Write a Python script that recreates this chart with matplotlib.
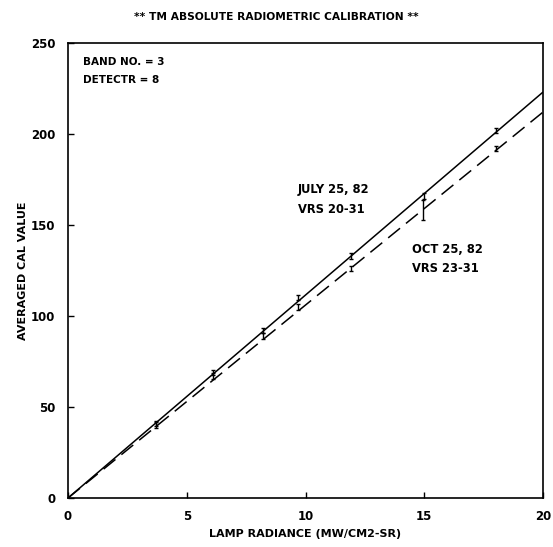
import matplotlib
matplotlib.use("Agg")
import matplotlib.pyplot as plt

# Fitted calibration lines (endpoints)
july_line_x = [0, 20]
july_line_y = [0, 223]
oct_line_x = [0, 20]
oct_line_y = [0, 212]

# Measured points with small error bars
july_x = [3.7, 6.1, 8.2, 9.7, 11.9, 15.0, 18.0]
july_y = [41, 69, 92, 110, 133, 166, 202]
july_err = [1.5, 1.5, 1.5, 1.5, 1.5, 1.5, 1.5]
oct_x = [3.7, 6.1, 8.2, 9.7, 11.9, 14.95, 18.0]
oct_y = [40, 67, 89, 105, 126, 158, 192]
oct_err = [1.5, 1.5, 1.5, 1.5, 1.5, 5.5, 1.5]

x_ticks = [0, 5, 10, 15, 20]
y_ticks = [0, 50, 100, 150, 200, 250]

FONT = dict(family="DejaVu Sans", fontweight="bold")

fig = plt.figure(figsize=(5.53, 5.47), dpi=100)
ax = fig.add_axes([0.123, 0.0896, 0.859, 0.832])

ax.plot(july_line_x, july_line_y, color="black", lw=1.1, solid_capstyle="butt")
ax.plot(oct_line_x, oct_line_y, color="black", lw=1.1, dashes=(10, 5))
ax.errorbar(july_x, july_y, yerr=july_err, fmt="none", ecolor="black",
            elinewidth=1.0, capsize=1.5, capthick=1.0)
ax.errorbar(oct_x, oct_y, yerr=oct_err, fmt="none", ecolor="black",
            elinewidth=1.0, capsize=1.5, capthick=1.0)

ax.set_xlim(0, 20)
ax.set_ylim(0, 250)
ax.set_xticks(x_ticks)
ax.set_yticks(y_ticks)
ax.set_xticklabels([str(t) for t in x_ticks], fontsize=8.5, **FONT)
ax.set_yticklabels([str(t) for t in y_ticks], fontsize=8.5, **FONT)
ax.tick_params(axis="y", direction="in", length=4, width=1.0, pad=9)
ax.tick_params(axis="x", direction="in", length=4, width=1.0, pad=9)
for s in ax.spines.values():
    s.set_linewidth(1.2)

ax.set_xlabel("LAMP RADIANCE (MW/CM2-SR)", fontsize=8, labelpad=4, **FONT)
ax.set_ylabel("AVERAGED CAL VALUE", fontsize=8, labelpad=2, **FONT)
fig.text(0.5, 0.969, "** TM ABSOLUTE RADIOMETRIC CALIBRATION **",
         ha="center", va="center", fontsize=7.7, **FONT)

ax.text(0.032, 0.958, "BAND NO. = 3", transform=ax.transAxes,
        ha="left", va="center", fontsize=7.5, **FONT)
ax.text(0.032, 0.919, "DETECTR = 8", transform=ax.transAxes,
        ha="left", va="center", fontsize=7.5, **FONT)
ax.text(0.484, 0.677, "JULY 25, 82", transform=ax.transAxes,
        ha="left", va="center", fontsize=8.3, **FONT)
ax.text(0.484, 0.633, "VRS 20-31", transform=ax.transAxes,
        ha="left", va="center", fontsize=8.3, **FONT)
ax.text(0.724, 0.545, "OCT 25, 82", transform=ax.transAxes,
        ha="left", va="center", fontsize=8.3, **FONT)
ax.text(0.724, 0.505, "VRS 23-31", transform=ax.transAxes,
        ha="left", va="center", fontsize=8.3, **FONT)

fig.savefig("out.png", dpi=100)
